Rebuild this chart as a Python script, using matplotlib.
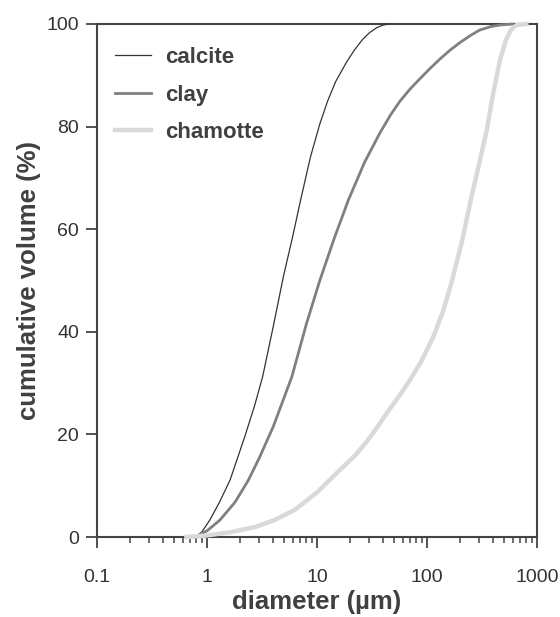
import matplotlib
matplotlib.use("Agg")
import matplotlib.pyplot as plt
from matplotlib.ticker import LogLocator, FixedLocator, NullFormatter

plt.rcParams['font.family'] = ['Liberation Sans', 'DejaVu Sans']

calcite_d = [0.78, 0.9, 1.06, 1.3, 1.62, 2.2, 2.7, 3.2, 4.0, 4.94, 6.0, 7.1, 8.7, 10.6, 12.5, 14.8, 18.6, 22.0, 26.0, 30.0, 35.0, 40.0, 45.0]
calcite_v = [0, 1.0, 3.3, 6.8, 11.1, 19.5, 25.5, 31.2, 41.0, 50.7, 58.5, 65.7, 74.0, 80.5, 85.0, 88.8, 92.6, 95.0, 97.0, 98.3, 99.3, 99.8, 100]

clay_d = [0.78, 1.0, 1.31, 1.8, 2.38, 3.0, 4.0, 5.9, 8.0, 10.6, 14.5, 19.3, 27.0, 37.4, 47.0, 57.0, 70.0, 86.0, 105.0, 130.0, 162.0, 200.0, 250.0, 300.0, 380.0, 460.0, 600.0]
clay_v = [0, 1.2, 3.3, 6.8, 11.1, 15.5, 21.5, 31.2, 41.5, 50.0, 58.5, 65.7, 73.0, 78.8, 82.4, 85.0, 87.3, 89.3, 91.2, 93.1, 94.9, 96.4, 97.8, 98.8, 99.5, 99.8, 100]

chamotte_d = [0.65, 1.0, 1.6, 2.8, 4.2, 6.3, 10.0, 16.2, 22.0, 28.3, 35.0, 43.0, 55.0, 70.0, 90.0, 114.0, 140.0, 168.0, 210.0, 250.0, 300.0, 349.0, 400.0, 461.0, 520.0, 580.0, 653.0, 800.0]
chamotte_v = [0, 0.3, 0.9, 2.0, 3.4, 5.3, 8.7, 13.1, 15.8, 18.6, 21.3, 24.1, 27.3, 30.6, 34.5, 39.0, 44.0, 49.8, 58.0, 65.7, 73.0, 79.3, 86.5, 93.0, 96.8, 98.9, 99.8, 100]

x_ticks = [0.1, 1, 10, 100, 1000]
x_ticklabels = ["0.1", "1", "10", "100", "1000"]
y_ticks = [0, 20, 40, 60, 80, 100]

fig = plt.figure(figsize=(5.6, 6.17), dpi=100)
ax = fig.add_axes([97/560, 1-537/617, 440/560, 513/617])

ax.plot(calcite_d, calcite_v, color='#333333', lw=0.9, label='calcite', clip_on=False, zorder=4)
ax.plot(clay_d, clay_v, color='#808080', lw=2.0, label='clay', clip_on=False, zorder=4)
ax.plot(chamotte_d, chamotte_v, color='#d9d9d9', lw=3.2, label='chamotte', clip_on=False, zorder=4)

ax.set_xscale('log')
ax.set_xlim(0.1, 1000)
ax.set_ylim(0, 100)
ax.xaxis.set_major_locator(FixedLocator(x_ticks))
ax.set_xticklabels(x_ticklabels)
ax.xaxis.set_minor_locator(LogLocator(base=10, subs=range(2, 10), numticks=20))
ax.xaxis.set_minor_formatter(NullFormatter())
ax.set_yticks(y_ticks)

for s in ax.spines.values():
    s.set_color('#444444')
    s.set_linewidth(1.5)

ax.tick_params(axis='both', which='major', direction='out', length=8, width=1.3, color='#444444',
               labelsize=14, labelcolor='#333333')
ax.tick_params(axis='x', which='major', pad=15)
ax.tick_params(axis='y', which='major', pad=5)
ax.tick_params(axis='x', which='minor', direction='out', length=4.5, width=1.1, color='#444444')

ax.set_xlabel('diameter (µm)', fontsize=18.5, fontweight='bold', color='#404040', labelpad=3)
ax.set_ylabel('cumulative volume (%)', fontsize=18.5, fontweight='bold', color='#404040', labelpad=4)

leg = ax.legend(loc='upper left', frameon=False, handlelength=1.6, labelspacing=0.74,
                handletextpad=0.65, borderaxespad=0.0, bbox_to_anchor=(0.021, 0.972),
                prop={'size': 16, 'weight': 'bold'})
for t in leg.get_texts():
    t.set_color('#404040')

fig.savefig('out.png', dpi=100)
